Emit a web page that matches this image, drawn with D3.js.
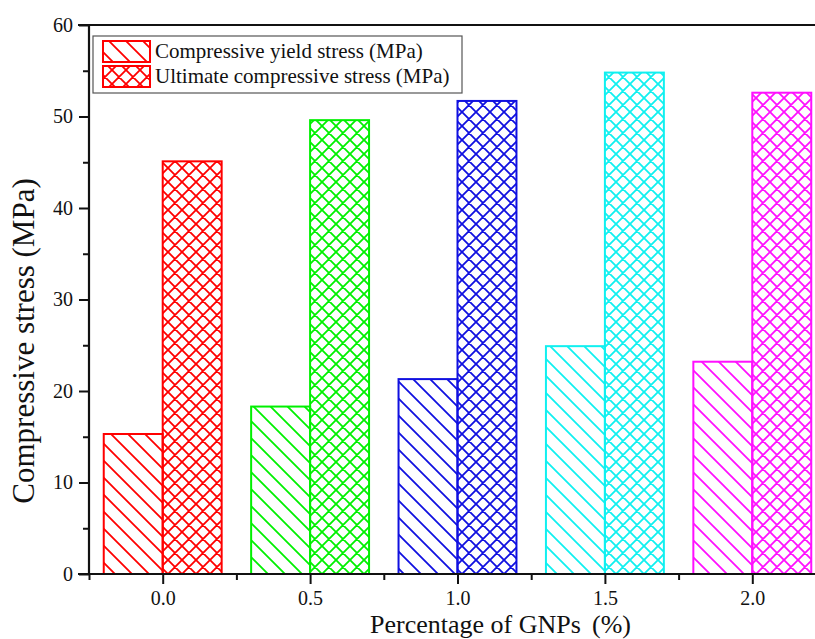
<!DOCTYPE html>
<html>
  <head>
    <meta http-equiv="content-type" content="text/html; charset=UTF-8">
    <title>Compressive stress vs GNPs</title>
    <script type='text/javascript' src='https://d3js.org/d3.v7.min.js'></script>
    <style type='text/css'>
      body { margin: 0; background-color: white; }
    </style>
  </head>
  <body>
    <script type='text/javascript'>
      // values
      var gnps = [0.0, 0.5, 1.0, 1.5, 2.0];
      var yieldStress = [15.3, 18.3, 21.3, 24.9, 23.2];
      var ultimateStress = [45.1, 49.6, 51.7, 54.8, 52.6];
      var barColors = ["#ff0000", "#00f000", "#1010e0", "#10f0f0", "#ff10ff"];
      var seriesNames = ["Compressive yield stress (MPa)", "Ultimate compressive stress (MPa)"];
      var yTicks = [0, 10, 20, 30, 40, 50, 60];
      var xTicks = [0.0, 0.5, 1.0, 1.5, 2.0];

      var serif = "'Liberation Serif', 'Times New Roman', 'DejaVu Serif', serif";
      var w = 815, h = 639;
      var svg = d3.select("body").append("svg").attr("width", w).attr("height", h)
        .style("font-family", serif);

      var x = d3.scaleLinear().domain([-0.25, 2.25]).range([89, 826]);
      var y = d3.scaleLinear().domain([0, 60]).range([574, 25]);
      var barW = 0.2;

      var defs = svg.append("defs");

      // "\" hatching for yield, cross hatching for ultimate
      function makePatterns(color, i) {
        var s = 17;
        var p = defs.append("pattern").attr("id", "diag" + i)
          .attr("patternUnits", "userSpaceOnUse").attr("width", s).attr("height", s);
        p.append("path")
          .attr("d", "M0,0L" + s + "," + s + "M-2,"+ (s-2) + "L2," + (s+2) + "M" + (s-2) + ",-2L" + (s+2) + ",2")
          .attr("stroke", color).attr("stroke-width", 1.8).attr("fill", "none");
        var c = 14;
        var q = defs.append("pattern").attr("id", "cross" + i)
          .attr("patternUnits", "userSpaceOnUse").attr("width", c).attr("height", c);
        q.append("path")
          .attr("d", "M0,0L" + c + "," + c + "M" + c + ",0L0," + c +
                     "M-2," + (c-2) + "L2," + (c+2) + "M" + (c-2) + ",-2L" + (c+2) + ",2" +
                     "M-2,2L2,-2M" + (c-2) + "," + (c+2) + "L" + (c+2) + "," + (c-2))
          .attr("stroke", color).attr("stroke-width", 1.8).attr("fill", "none");
      }
      barColors.forEach(makePatterns);

      var plot = svg.append("g");

      // yield bars, left of the tick
      plot.selectAll("rect.yield").data(gnps).enter().append("rect")
        .attr("class", "yield")
        .attr("x", function(d) { return x(d - barW); })
        .attr("width", function(d) { return x(d) - x(d - barW); })
        .attr("y", function(d, i) { return y(yieldStress[i]); })
        .attr("height", function(d, i) { return y(0) - y(yieldStress[i]); })
        .attr("fill", function(d, i) { return "url(#diag" + i + ")"; })
        .attr("stroke", function(d, i) { return barColors[i]; })
        .attr("stroke-width", 2);

      // ultimate bars, right of the tick
      plot.selectAll("rect.ult").data(gnps).enter().append("rect")
        .attr("class", "ult")
        .attr("x", function(d) { return x(d); })
        .attr("width", function(d) { return x(d + barW) - x(d); })
        .attr("y", function(d, i) { return y(ultimateStress[i]); })
        .attr("height", function(d, i) { return y(0) - y(ultimateStress[i]); })
        .attr("fill", function(d, i) { return "url(#cross" + i + ")"; })
        .attr("stroke", function(d, i) { return barColors[i]; })
        .attr("stroke-width", 2);

      // axes
      var yAxis = d3.axisLeft(y).tickValues(yTicks).tickSize(10).tickPadding(6).tickFormat(d3.format("d"));
      var yMinor = d3.axisLeft(y).tickValues(d3.range(5, 60, 10)).tickSize(6).tickFormat("");
      var xAxis = d3.axisBottom(x).tickValues(xTicks).tickSize(10).tickPadding(7).tickFormat(d3.format(".1f"));
      var xMinor = d3.axisBottom(x).tickValues([-0.25, 0.25, 0.75, 1.25, 1.75]).tickSize(6).tickFormat("");

      function styleAxis(g) {
        g.attr("font-family", serif).attr("font-size", 20);
        g.select(".domain").remove();
        g.selectAll("line").attr("stroke", "#111").attr("stroke-width", 2);
        g.selectAll("text").attr("fill", "#111");
      }

      svg.append("g").attr("transform", "translate(89,0)").call(yMinor).call(styleAxis);
      svg.append("g").attr("transform", "translate(89,0)").call(yAxis).call(styleAxis);
      svg.append("g").attr("transform", "translate(0,574)").call(xMinor).call(styleAxis);
      svg.append("g").attr("transform", "translate(0,574)").call(xAxis).call(styleAxis);

      // frame lines
      svg.append("line").attr("x1", 89).attr("x2", 89).attr("y1", 24).attr("y2", 575)
        .attr("stroke", "#111").attr("stroke-width", 2.2);
      svg.append("line").attr("x1", 78).attr("x2", w).attr("y1", 574).attr("y2", 574)
        .attr("stroke", "#111").attr("stroke-width", 2.2);
      svg.append("line").attr("x1", 78).attr("x2", w).attr("y1", 25).attr("y2", 25)
        .attr("stroke", "#111").attr("stroke-width", 2.2);

      // axis titles
      svg.append("text")
        .attr("transform", "translate(34,341) rotate(-90)")
        .attr("text-anchor", "middle").attr("font-size", 31).attr("fill", "#111")
        .text("Compressive stress (MPa)");
      svg.append("text").attr("x", 370).attr("y", 633).attr("font-size", 26).attr("fill", "#111")
        .text("Percentage of GNPs");
      svg.append("text").attr("x", 592).attr("y", 633).attr("font-size", 26).attr("fill", "#111")
        .text("(%)");

      // legend
      var lg = svg.append("g");
      lg.append("rect").attr("x", 93).attr("y", 36).attr("width", 369).attr("height", 57)
        .attr("fill", "white").attr("stroke", "#555").attr("stroke-width", 1.2);
      var legendFills = ["url(#diag0)", "url(#cross0)"];
      seriesNames.forEach(function(name, i) {
        var yy = 41 + i * 25;
        lg.append("rect").attr("x", 103).attr("y", yy).attr("width", 47).attr("height", 21)
          .attr("fill", legendFills[i]).attr("stroke", barColors[0]).attr("stroke-width", 2);
        lg.append("text").attr("x", 155).attr("y", yy + 17).attr("font-size", 21).attr("fill", "#111")
          .text(name);
      });
    </script>
  </body>
</html>
